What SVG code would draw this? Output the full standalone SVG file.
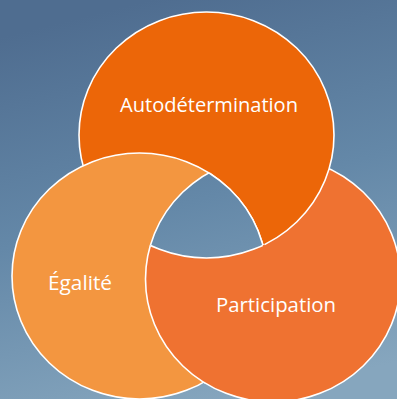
<svg xmlns="http://www.w3.org/2000/svg" width="397" height="399" viewBox="0 0 397 399">
  <defs>
    <linearGradient id="bg" gradientUnits="userSpaceOnUse" x1="150" y1="0" x2="250" y2="399">
      <stop offset="0" stop-color="#4F6D90"/>
      <stop offset="0.5" stop-color="#6488A8"/>
      <stop offset="1" stop-color="#86A6BE"/>
    </linearGradient>
    <ellipse id="eA" cx="206.5" cy="135" rx="127.5" ry="123"/>
    <ellipse id="eB" cx="139.5" cy="276" rx="127.5" ry="123"/>
    <ellipse id="eC" cx="273" cy="279" rx="127.5" ry="123"/>
    <clipPath id="cA"><use href="#eA"/></clipPath>
    <clipPath id="cB"><use href="#eB"/></clipPath>
    <clipPath id="cC"><use href="#eC"/></clipPath>
    <clipPath id="cBwide"><ellipse cx="139.5" cy="276" rx="129.5" ry="125"/></clipPath>
    <mask id="notA" maskUnits="userSpaceOnUse" x="0" y="0" width="397" height="399">
      <rect x="0" y="0" width="397" height="399" fill="#fff"/>
      <use href="#eA" fill="#000"/>
    </mask>
    <style>
      .ln { fill: none; stroke: #ffffff; stroke-width: 1.6; }
      .a { fill: #EC6608; stroke: #ffffff; stroke-width: 1.6; }
      .b { fill: #F39640; stroke: #ffffff; stroke-width: 1.6; }
      .c { fill: #EF7231; stroke: #ffffff; stroke-width: 1.6; }
      .lbl { font-family: "Open Sans", "Liberation Sans", sans-serif; font-size: 20px; font-weight: 500; fill: #ffffff; text-anchor: middle; }
    </style>
  </defs>
  <rect x="0" y="0" width="397" height="399" fill="url(#bg)"/>

  <g id="participation-base"><use href="#eC" class="c"/></g>
  <g id="autodetermination"><use href="#eA" class="a"/></g>
  <g id="egalite"><use href="#eB" class="b"/></g>
  <g id="participation-over" clip-path="url(#cBwide)"><g mask="url(#notA)"><use href="#eC" class="c"/></g></g>

  <g id="hole">
    <g clip-path="url(#cA)"><g clip-path="url(#cB)"><g clip-path="url(#cC)">
      <rect x="0" y="0" width="397" height="399" fill="url(#bg)"/>
    </g></g></g>
    <g clip-path="url(#cB)"><g clip-path="url(#cC)"><use href="#eA" class="ln"/></g></g>
    <g clip-path="url(#cA)"><g clip-path="url(#cC)"><use href="#eB" class="ln"/></g></g>
    <g clip-path="url(#cA)"><g clip-path="url(#cB)"><use href="#eC" class="ln"/></g></g>
  </g>

  <g id="labels">
    <text class="lbl" x="209" y="112" textLength="178" lengthAdjust="spacingAndGlyphs">Autodétermination</text>
    <text class="lbl" x="80" y="290" textLength="64" lengthAdjust="spacingAndGlyphs">Égalité</text>
    <text class="lbl" x="276" y="312" textLength="120" lengthAdjust="spacingAndGlyphs">Participation</text>
  </g>
</svg>
